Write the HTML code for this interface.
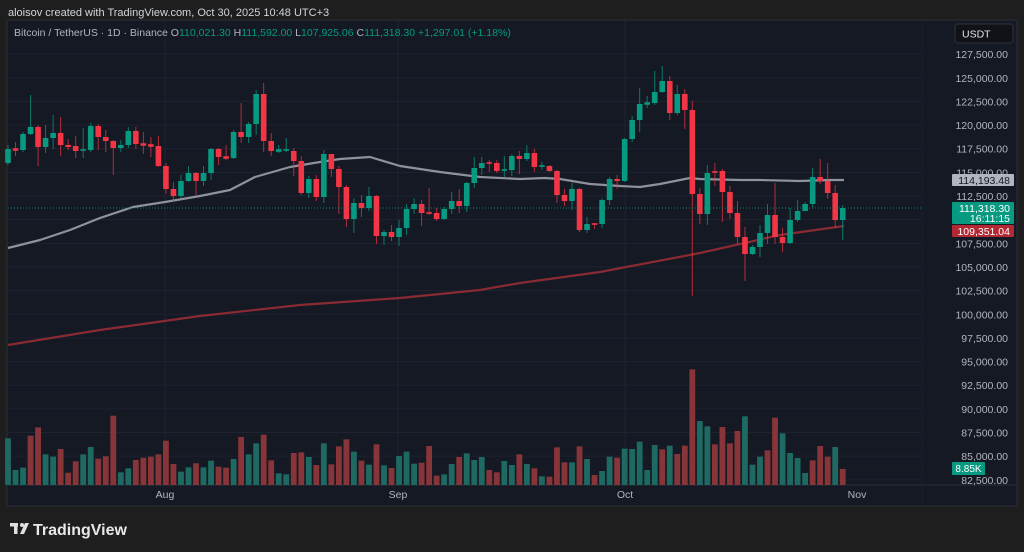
<!DOCTYPE html>
<html><head><meta charset="utf-8">
<style>
html,body{margin:0;padding:0;background:#1e1e1e;width:1024px;height:552px;overflow:hidden;font-family:"Liberation Sans",Arial,sans-serif}
svg{display:block}
</style></head>
<body>
<svg id="s" width="1024" height="552" xmlns="http://www.w3.org/2000/svg" font-family="Liberation Sans, Arial, sans-serif">
<rect x="0" y="0" width="1024" height="552" fill="#1e1e1e"/>
<rect x="7" y="20" width="1010" height="486" fill="#151924" stroke="#2a2e39" stroke-width="1"/>
<g id="grid"></g>
<g id="vol"></g>
<g id="ma"></g>
<g id="candles"></g>
<line x1="8" y1="208" x2="922" y2="208" stroke="#089981" stroke-width="1" stroke-dasharray="1,2" opacity="0.8"/>
<g id="axis" font-size="10.5" fill="#b2b5be" text-anchor="end"></g>
<text x="8" y="16" font-size="11" fill="#d1d4dc">aloisov created with TradingView.com, Oct 30, 2025 10:48 UTC+3</text>
<text x="14" y="36" font-size="10.5" fill="#b2b5be">Bitcoin / TetherUS · 1D · Binance  O<tspan fill="#089981">110,021.30</tspan>  H<tspan fill="#089981">111,592.00</tspan>  L<tspan fill="#089981">107,925.06</tspan>  C<tspan fill="#089981">111,318.30</tspan>  <tspan fill="#089981">+1,297.01 (+1.18%)</tspan></text>
<rect x="955" y="24" width="58" height="19" rx="3" fill="#111217" stroke="#2e313b"/>
<text x="962" y="37.5" font-size="10.5" fill="#e0e3eb">USDT</text>
<rect x="952" y="174" width="62" height="12" rx="1" fill="#b2b5be"/>
<text x="1010" y="184" font-size="10.5" fill="#131722" text-anchor="end">114,193.48</text>
<rect x="952" y="202" width="62" height="22" rx="1" fill="#089981"/>
<text x="1010" y="212" font-size="10.5" fill="#ffffff" text-anchor="end">111,318.30</text>
<text x="1010" y="222" font-size="10.5" fill="#ffffff" text-anchor="end">16:11:15</text>
<rect x="952" y="225" width="62" height="12" rx="1" fill="#b22833"/>
<text x="1010" y="235" font-size="10.5" fill="#ffffff" text-anchor="end">109,351.04</text>
<rect x="952" y="462" width="33" height="13" rx="1" fill="#089981"/>
<text x="968.5" y="472" font-size="10" fill="#ffffff" text-anchor="middle">8.85K</text>
<g font-size="10.5" fill="#b2b5be" text-anchor="middle">
<text x="165" y="498">Aug</text><text x="398" y="498">Sep</text><text x="625" y="498">Oct</text><text x="857" y="498">Nov</text>
</g>
<g fill="#e0e0e0"><rect x="10" y="523" width="8" height="3.5"/><rect x="14" y="523" width="3.5" height="11"/><circle cx="22" cy="525" r="2"/><path d="M25 523 h4 l-5 11 h-4z"/></g>
<text x="33" y="535" font-size="16" font-weight="bold" fill="#e8e8e8">TradingView</text>
</svg>
<script>
var NS="http://www.w3.org/2000/svg";
function el(p,t,a){var e=document.createElementNS(NS,t);for(var k in a)e.setAttribute(k,a[k]);document.getElementById(p).appendChild(e);return e;}
function yp(p){return 180-(p-114193)/2500*23.65;}
for(var p=82500;p<=127500;p+=2500){var y=yp(p);el("grid","line",{x1:8,y1:y,x2:922,y2:y,stroke:"#1f2330","stroke-width":1});
 if(p==110000)continue;
 var t=el("axis","text",{x:1008,y:y+4});t.textContent=p.toLocaleString("en-US")+".00";}
[165,398,625].forEach(function(x){el("grid","line",{x1:x,y1:21,x2:x,y2:485,stroke:"#1f2330","stroke-width":1});});
el("grid","line",{x1:8,y1:485,x2:1016,y2:485,stroke:"#2a2e39","stroke-width":1});
el("grid","line",{x1:922,y1:21,x2:922,y2:505,stroke:"#1c202b","stroke-width":1});
var C=[[163,149,145,165],[149,150,142,156],[150,134,132,152],[134,127,95,135],[127,147,125,166],[147,138,125,153],[138,133,115,149],[133,145,117,156],[145,147,139,150],[146,151,136,158],[150,150,128,158],[150,126,123,152],[126,137,124,150],[137,141,130,152],[141,148,140,175],[148,145,140,152],[145,131,127,148],[131,144,127,149],[144,145,132,154],[145,146,137,157],[146,166,136,167],[166,189,163,194],[189,196,182,201],[196,181,175,198],[181,173,166,182],[173,181,172,195],[181,173,166,186],[173,149,148,180],[149,157,148,165],[157,158,145,160],[158,132,130,159],[132,137,103,143],[137,124,122,143],[124,94,90,135],[94,141,83,152],[141,151,133,156],[151,150,145,153],[150,150,138,152],[151,161,148,176],[161,193,156,195],[193,179,176,198],[179,197,175,201],[197,154,150,203],[154,169,155,177],[169,187,166,214],[187,219,185,227],[219,203,198,233],[203,208,195,217],[208,196,187,211],[196,236,195,244],[236,232,230,245],[232,237,225,241],[237,228,220,246],[228,209,204,235],[209,204,198,214],[204,213,200,226],[213,213,188,215],[213,219,208,221],[219,209,207,220],[209,201,192,214],[201,206,189,213],[206,183,182,212],[183,168,157,188],[168,163,157,175],[163,163,160,172],[163,171,160,173],[170,170,156,177],[170,156,154,176],[156,159,151,174],[159,153,145,161],[153,167,149,172],[166,166,162,170],[166,171,165,172],[171,195,170,203],[195,201,189,206],[201,189,183,210],[189,230,188,232],[230,224,217,233],[224,224,223,229],[224,200,198,228],[200,179,177,205],[179,181,175,189],[181,139,138,182],[139,120,116,142],[120,104,88,132],[104,103,96,108],[103,92,71,105],[92,81,66,93],[81,113,76,120],[113,94,85,115],[94,110,89,129],[110,194,101,296],[194,214,188,224],[214,173,165,225],[172,172,163,186],[171,192,169,222],[192,213,186,219],[213,237,201,244],[237,254,227,281],[254,247,245,255],[247,233,225,257],[233,215,204,244],[215,237,183,244],[237,243,228,252],[243,220,208,244],[220,211,200,222],[211,204,202,209],[204,177,168,207],[177,181,159,184],[181,193,163,199],[193,220,185,228],[220,208,205,240]];
var V=[220,315,308,212,187,268,275,252,323,289,268,246,281,274,152,322,310,285,278,275,268,227,297,320,307,295,307,287,305,308,282,216,268,235,209,286,325,328,264,262,276,300,235,298,244,223,260,287,299,238,301,309,273,260,296,293,243,332,328,297,276,265,285,276,315,322,288,300,268,297,310,334,335,247,292,292,244,282,330,318,275,278,251,252,230,315,240,253,242,267,242,13,168,184,238,186,235,198,154,299,275,256,158,205,264,279,324,286,243,275,246,312];
var VC="gggrrggrrrggrrrggrrrrrrggrggrrgrggrrggrrgrgrrrgrgrgrgggrrrggrgggrrggrgrgrrrgrgrggrgggggrgrrrggrrrrgggrrggggrrrg";
var dx=7.52;
for(var i=0;i<C.length;i++){
 var x=8+i*dx, c=C[i], up=c[1]<c[0]||(c[1]==c[0]&&VC[i]=="g");
 var col=up?"#089981":"#f23645";
 var vt=365+V[i]/3;
 el("vol","rect",{x:x-2.9,y:vt,width:5.8,height:485-vt,fill:VC[i]=="g"?"#1e6a63":"#883539"});
 el("candles","line",{x1:x,y1:c[2],x2:x,y2:c[3],stroke:col,"stroke-width":1,opacity:up?0.75:0.7});
 var t=Math.min(c[0],c[1]),b=Math.max(c[0],c[1]);if(b-t<1.5){t-=0.8;b+=0.8;}
 el("candles","rect",{x:x-2.8,y:t,width:5.6,height:b-t,fill:col});
}
function path(pts){return "M"+pts.map(function(p){return p[0]+" "+p[1]}).join(" L");}
el("ma","path",{d:path([[8,248],[40,240],[70,230],[100,218],[133,207],[165,202],[200,196],[230,190],[255,177],[290,167],[320,162],[340,159],[370,157],[400,166],[440,172],[480,177],[520,179],[545,178],[560,179],[590,184],[620,186],[640,187],[660,184],[680,180],[690,178],[700,179],[740,180],[760,180],[800,181],[830,180],[844,180]]),fill:"none",stroke:"#8f929b","stroke-width":2.2,"stroke-linejoin":"round"});
el("ma","path",{d:path([[8,345],[100,330],[200,316],[300,305],[400,298],[480,290],[520,283],[600,272],[700,253],[780,235],[844,226]]),fill:"none",stroke:"#8a2a33","stroke-width":2.2});
</script>
</body></html>
